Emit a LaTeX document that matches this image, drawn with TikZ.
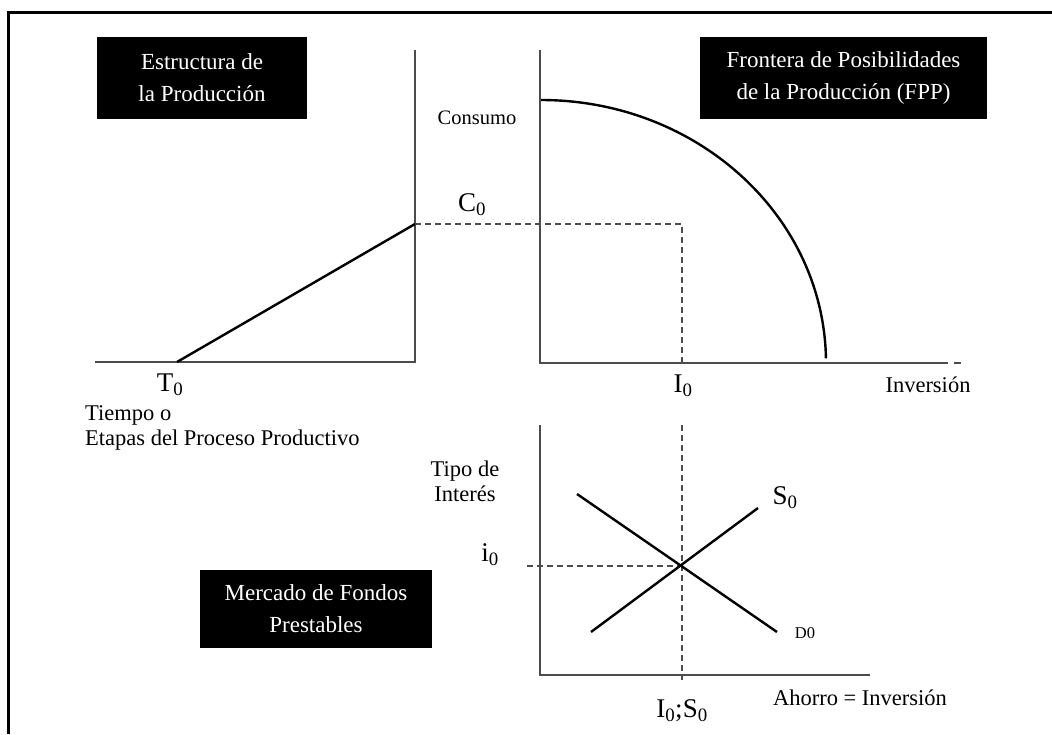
\documentclass[tikz,border=0pt]{standalone}
\usepackage{fontspec}
\setmainfont{Liberation Serif}
\begin{document}
\begin{tikzpicture}[x=1pt,y=-1pt,
  blackbox/.style={fill=black,text=white,align=center,inner sep=0pt,font=\fontsize{23}{32}\selectfont},
  axisline/.style={draw=black!70,line width=1.8pt},
  curveline/.style={draw=black,line width=2.4pt},
  guide/.style={draw=black!70,line width=1.7pt,dash pattern=on 6pt off 4pt},
  lbl/.style={inner sep=0pt,font=\fontsize{22.5}{25}\selectfont},
  sublbl/.style={inner sep=0pt,font=\fontsize{27}{30}\selectfont}]
\useasboundingbox (0,0) rectangle (1052,734);
\fill[white] (0,0) rectangle (1052,734);
% frame
\draw[line width=3pt] (1052,12) -- (8,12) -- (8,734);
% boxes
\node[blackbox,minimum width=210pt,minimum height=82pt] (b1) at (202,78) {Estructura de\\la Producción};
\node[blackbox,minimum width=287pt,minimum height=82pt] (b2) at (843.5,78) {Frontera de Posibilidades\\de la Producción (FPP)};
\node[blackbox,minimum width=232pt,minimum height=78pt] (b3) at (316,609) {Mercado de Fondos\\Prestables};
% left panel
\coordinate (Ltop) at (415,50);
\coordinate (Lo) at (415,362);
\coordinate (Lleft) at (95,362);
\coordinate (T) at (177,362);
\coordinate (C) at (415,224);
\draw[axisline] (Ltop) -- (Lo) -- (Lleft);
\draw[curveline] (T) -- (C);
% right panel
\coordinate (Rtop) at (540,50);
\coordinate (Ro) at (540,363);
\coordinate (Rright) at (948,363);
\coordinate (tickA) at (954,363);
\coordinate (tickB) at (961,363);
\coordinate (Ccorner) at (682,224);
\coordinate (Ibase) at (682,363);
\coordinate (Ftop) at (541,100);
\draw[axisline] (Rtop) -- (Ro) -- (Rright);
\draw[axisline,line width=1.4pt] (tickA) -- (tickB);
\draw[guide] (C) -- (Ccorner) -- (Ibase);
\draw[curveline] (Ftop) arc[start angle=-90,end angle=-1,x radius=285,y radius=263];
% lower panel
\coordinate (Btop) at (540,425);
\coordinate (Bo) at (540,675);
\coordinate (Bright) at (870,675);
\coordinate (Vtop) at (682,425);
\coordinate (Vbot) at (682,680);
\coordinate (Hleft) at (527,566);
\coordinate (Hright) at (682,566);
\coordinate (D1) at (577,494);
\coordinate (D2) at (777,632);
\coordinate (S1) at (591,632);
\coordinate (S2) at (758,508);
\draw[axisline] (Btop) -- (Bo) -- (Bright);
\draw[guide] (Vtop) -- (Vbot);
\draw[guide] (Hleft) -- (Hright);
\draw[curveline] (D1) -- (D2);
\draw[curveline] (S1) -- (S2);
% labels
\node[sublbl] (c0) at (472,205) {C\textsubscript{0}};
\node[lbl,font=\fontsize{20.5}{24}\selectfont] (cons) at (477,118) {Consumo};
\node[sublbl] (t0) at (170,385) {T\textsubscript{0}};
\node[sublbl] (i0a) at (683,386) {I\textsubscript{0}};
\node[lbl] (inv) at (928,385) {Inversión};
\node[lbl,align=left,anchor=north west] (tiempo) at (85,405) {Tiempo o\\Etapas del Proceso Productivo};
\node[lbl,align=center] (tipo) at (465,481) {Tipo de\\Interés};
\node[sublbl] (ii0) at (490,555) {i\textsubscript{0}};
\node[sublbl] (s0) at (785,498) {S\textsubscript{0}};
\node[lbl,font=\fontsize{16.5}{18}\selectfont] (d0) at (805,633) {D0};
\node[sublbl] (is0) at (682,711) {I\textsubscript{0};S\textsubscript{0}};
\node[lbl] (aho) at (860,698) {Ahorro = Inversión};
\end{tikzpicture}
\end{document}
